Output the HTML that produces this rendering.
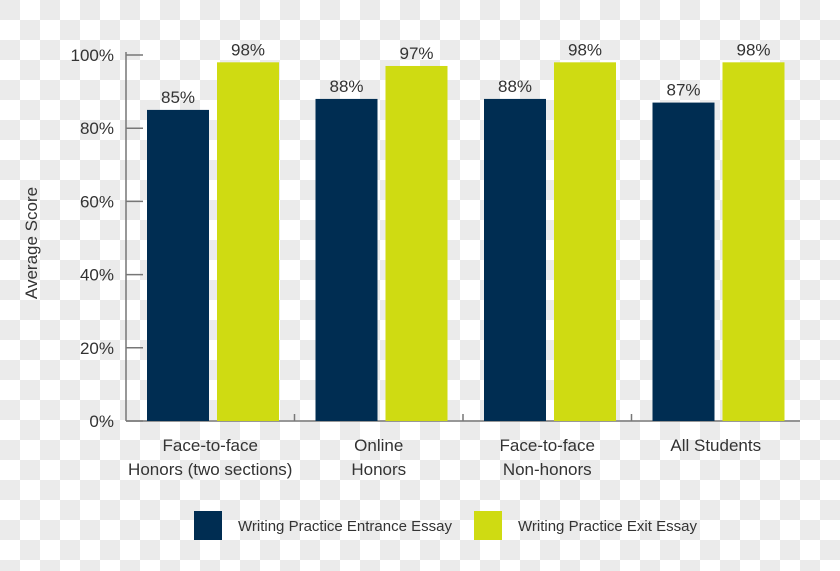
<!DOCTYPE html>
<html><head><meta charset="utf-8"><style>
body{margin:0;width:840px;height:566px;overflow:hidden;background-color:#fff;
background-image:linear-gradient(45deg,#ebebeb 25%,transparent 25%,transparent 75%,#ebebeb 75%),linear-gradient(45deg,#ebebeb 25%,transparent 25%,transparent 75%,#ebebeb 75%);
background-size:40px 40px;background-position:20px 0,0 20px;font-family:"Liberation Sans",sans-serif;}
svg text{font-family:"Liberation Sans",sans-serif;fill:#333;}
</style></head><body>
<svg id="chart" width="840" height="566" xmlns="http://www.w3.org/2000/svg"></svg>
<script>
const categories=[["Face-to-face","Honors (two sections)"],["Online","Honors"],["Face-to-face","Non-honors"],["All Students"]];
const entranceValues=[85,88,88,87];
const exitValues=[98,97,98,98];
const tickValues=[0,20,40,60,80,100];
const seriesNames=["Writing Practice Entrance Essay","Writing Practice Exit Essay"];
const colors=["#002d52","#cfdb12"];
const svg=document.getElementById('chart');
const NS="http://www.w3.org/2000/svg";
const x0=126,x1=800,yTop=55,yBot=421;
const y=v=>yBot-(v/100)*(yBot-yTop);
const gw=(x1-x0)/categories.length;
function el(t,a,txt){const e=document.createElementNS(NS,t);for(const k in a)e.setAttribute(k,a[k]);if(txt!==undefined)e.textContent=txt;svg.appendChild(e);return e;}
let e;
e=el('line',{x1:x0,y1:yTop-3,x2:x0,y2:yBot,stroke:'#777','stroke-width':1.5});


e=el('line',{x1:x0,y1:yBot,x2:x1,y2:yBot,stroke:'#777','stroke-width':1.5});


tickValues.forEach(v=>{
 e=el('line',{x1:x0,y1:y(v),x2:x0+17,y2:y(v),stroke:'#777','stroke-width':1.5});
 
 
 e=el('text',{x:x0-12,y:y(v)+6,'text-anchor':'end','font-size':17},v+'%');
 
 
});
for(let i=1;i<categories.length;i++){
 e=el('line',{x1:x0+gw*i,y1:yBot-7,x2:x0+gw*i,y2:yBot,stroke:'#777','stroke-width':1.5});
 
 
}
e=el('text',{x:37,y:(yTop+yBot)/2+5,'text-anchor':'middle','font-size':17,transform:`rotate(-90 37 ${(yTop+yBot)/2+5})`},'Average Score');


categories.forEach((c,i)=>{
 const gx=x0+gw*i;
 [entranceValues[i],exitValues[i]].forEach((v,s)=>{
  const bx=gx+21+s*70;
  e=el('rect',{x:bx,y:y(v),width:62,height:yBot-y(v),fill:colors[s]});
  
  
  e=el('text',{x:bx+31,y:y(v)-7,'text-anchor':'middle','font-size':17},v+'%');
  
  
 });
 c.forEach((line,j)=>{
  e=el('text',{x:gx+gw/2,y:451+j*24,'text-anchor':'middle','font-size':17},line);
  
  
 });
});
const lx=[194,474];
seriesNames.forEach((n,s)=>{
 e=el('rect',{x:lx[s],y:511,width:28,height:29,fill:colors[s]});
 
 
 e=el('text',{x:lx[s]+44,y:531,'font-size':15},n);
 
 
});
</script>
</body></html>
